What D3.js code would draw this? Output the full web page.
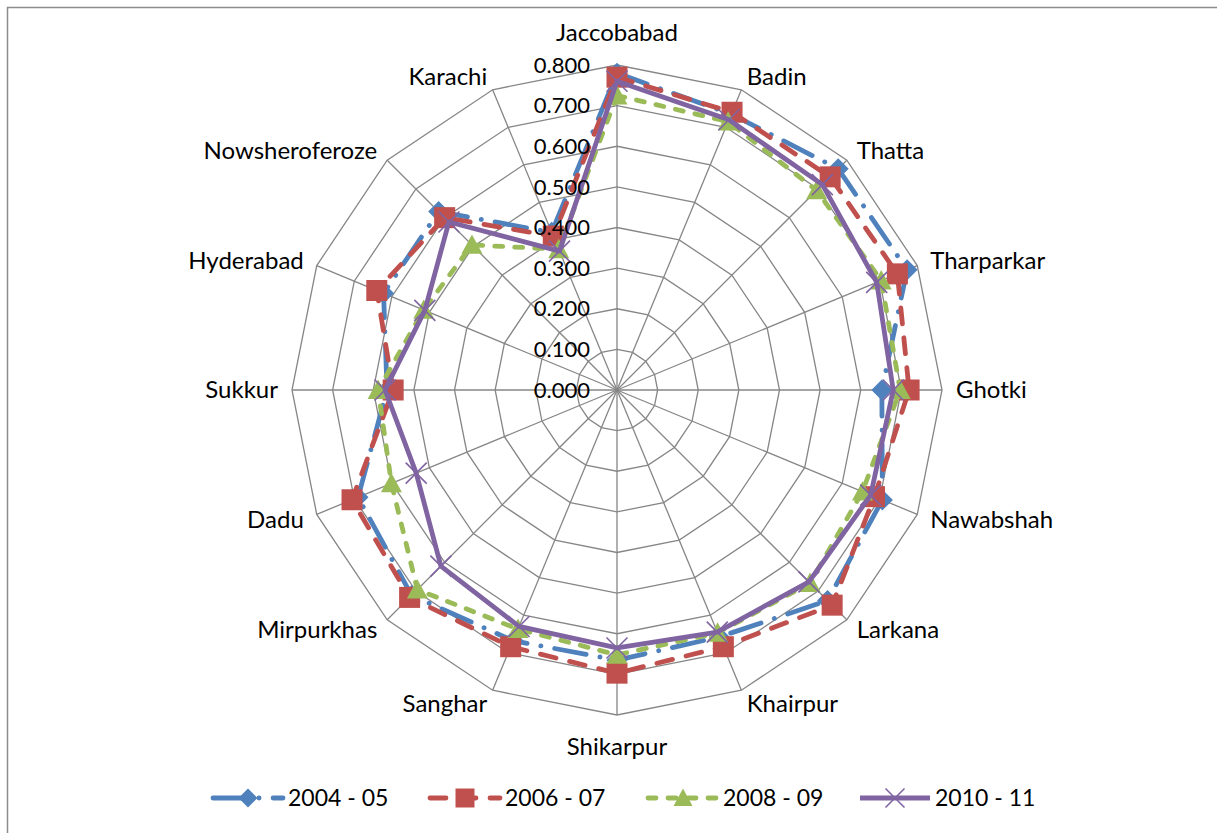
<!DOCTYPE html>
<html>
<head>
<meta charset="utf-8">
<script src="https://cdn.jsdelivr.net/npm/d3@7"></script>
<style>
  body { margin: 0; background: #fff; }
  svg text { font-family: Lato, "Open Sans", sans-serif; fill: #000; }
</style>
</head>
<body>
<div id="chart"></div>
<script>
var categories = ["Jaccobabad", "Badin", "Thatta", "Tharparkar", "Ghotki", "Nawabshah", "Larkana", "Khairpur",
                  "Shikarpur", "Sanghar", "Mirpurkhas", "Dadu", "Sukkur", "Hyderabad", "Nowsheroferoze", "Karachi"];
var seriesNames = ["2004 - 05", "2006 - 07", "2008 - 09", "2010 - 11"];
var v2004 = [0.780, 0.735, 0.770, 0.773, 0.652, 0.707, 0.733, 0.658, 0.665, 0.668, 0.715, 0.690, 0.566, 0.622, 0.621, 0.420];
var v2006 = [0.770, 0.740, 0.742, 0.747, 0.719, 0.686, 0.749, 0.684, 0.697, 0.684, 0.722, 0.706, 0.551, 0.640, 0.600, 0.410];
var v2008 = [0.725, 0.715, 0.695, 0.704, 0.697, 0.654, 0.672, 0.647, 0.652, 0.637, 0.695, 0.601, 0.588, 0.515, 0.505, 0.375];
var v2010 = [0.760, 0.720, 0.715, 0.692, 0.680, 0.676, 0.668, 0.645, 0.635, 0.630, 0.613, 0.535, 0.571, 0.512, 0.585, 0.370];
var tickValues = [0, 0.1, 0.2, 0.3, 0.4, 0.5, 0.6, 0.7, 0.8];

var w = 1217, h = 833
    , cx = 617, cy = 390, R = 325;

var colors = ["#4F81BD", "#C0504D", "#9BBB59", "#8064A2"];
var dashes = ["32,14,0.1,14", "16,14", "8,12", null];
var shapes = ["diamond", "square", "triangle", "x"];
var allValues = [v2004, v2006, v2008, v2010];

var svg = d3.select("div#chart")
    .append("svg")
    .attr("width", w)
    .attr("height", h);

// outer frame (right and bottom edges fall outside the window)
svg.append("rect")
    .attr("x", 7.5).attr("y", 7.5)
    .attr("width", 1220).attr("height", 840)
    .attr("fill", "none")
    .attr("stroke", "#8c8c8c")
    .attr("stroke-width", 1.5);

var rScale = d3.scaleLinear().domain([0, 0.8]).range([0, R]);
var aScale = d3.scaleLinear().domain([0, categories.length]).range([0, 2 * Math.PI]);

function px(i, v) { return cx + rScale(v) * Math.sin(aScale(i)); }
function py(i, v) { return cy - rScale(v) * Math.cos(aScale(i)); }

var gridG = svg.append("g").attr("class", "grid");

// rings
tickValues.slice(1).forEach(function(t) {
  var pts = categories.map(function(c, i) { return [px(i, t), py(i, t)]; });
  gridG.append("polygon")
      .attr("points", pts.map(function(p) { return p.join(","); }).join(" "))
      .attr("fill", "none")
      .attr("stroke", "#868686")
      .attr("stroke-width", 1.3);
});

// spokes
gridG.selectAll("line")
    .data(categories)
    .enter()
    .append("line")
    .attr("x1", cx).attr("y1", cy)
    .attr("x2", function(d, i) { return px(i, 0.8); })
    .attr("y2", function(d, i) { return py(i, 0.8); })
    .attr("stroke", "#868686")
    .attr("stroke-width", 1.3);

// category labels
svg.append("g")
    .selectAll("text")
    .data(categories)
    .enter()
    .append("text")
    .attr("x", function(d, i) { return cx + (R + 14) * Math.sin(aScale(i)); })
    .attr("y", function(d, i) {
      var c = Math.cos(aScale(i));
      var y = cy - (R + 14) * c;
      if (Math.abs(c) > 0.99) y -= c * 18;
      return y;
    })
    .attr("dy", "0.35em")
    .attr("text-anchor", function(d, i) {
      var s = Math.sin(aScale(i));
      return s > 0.01 ? "start" : (s < -0.01 ? "end" : "middle");
    })
    .style("font-size", "24px")
    .text(function(d) { return d; });

// series
var line = d3.line()
    .x(function(d, i) { return px(i, d); })
    .y(function(d, i) { return py(i, d); })
    .curve(d3.curveLinearClosed);

function drawMarker(g, shape, color, x, y, s) {
  if (shape == "diamond") {
    g.append("path")
        .attr("d", "M" + x + "," + (y - s) + "L" + (x + s) + "," + y + "L" + x + "," + (y + s) + "L" + (x - s) + "," + y + "Z")
        .attr("fill", color);
  } else if (shape == "square") {
    g.append("rect")
        .attr("x", x - s).attr("y", y - s)
        .attr("width", 2 * s).attr("height", 2 * s)
        .attr("fill", color);
  } else if (shape == "triangle") {
    g.append("path")
        .attr("d", "M" + x + "," + (y - s) + "L" + (x + s) + "," + (y + s * 0.85) + "L" + (x - s) + "," + (y + s * 0.85) + "Z")
        .attr("fill", color);
  } else {
    g.append("path")
        .attr("d", "M" + (x - s) + "," + (y - s) + "L" + (x + s) + "," + (y + s) + "M" + (x - s) + "," + (y + s) + "L" + (x + s) + "," + (y - s))
        .attr("stroke", color)
        .attr("stroke-width", 1.6)
        .attr("fill", "none");
  }
}

allValues.forEach(function(vals, k) {
  var g = svg.append("g").attr("class", "series s" + k);
  g.append("path")
      .attr("d", line(vals))
      .attr("fill", "none")
      .attr("stroke", colors[k])
      .attr("stroke-width", 4.8)
      .attr("stroke-linecap", dashes[k] ? "round" : "butt")
      .attr("stroke-linejoin", "round")
      .attr("stroke-dasharray", dashes[k]);
  vals.forEach(function(v, i) {
    drawMarker(g, shapes[k], colors[k], px(i, v), py(i, v), 10.5);
  });
});

// value ticks
svg.append("g")
    .selectAll("text")
    .data(tickValues)
    .enter()
    .append("text")
    .attr("x", cx - 27)
    .attr("y", function(d) { return cy - rScale(d); })
    .attr("dy", "0.35em")
    .attr("text-anchor", "end")
    .style("font-size", "22px")
    .text(function(d) { return d3.format(".3f")(d); });

// legend
var legendX = [211, 428, 646, 858];
var legendY = 798;
var legend = svg.append("g").attr("class", "legend");
seriesNames.forEach(function(name, k) {
  var x0 = legendX[k];
  var g = legend.append("g");
  g.append("line")
      .attr("x1", x0 + 2).attr("x2", x0 + 72)
      .attr("y1", legendY).attr("y2", legendY)
      .attr("stroke", colors[k])
      .attr("stroke-width", 4.8)
      .attr("stroke-linecap", dashes[k] ? "round" : "butt")
      .attr("stroke-dasharray", dashes[k]);
  drawMarker(g, shapes[k], colors[k], x0 + 37, legendY, 9.5);
  g.append("text")
      .attr("x", x0 + 77)
      .attr("y", legendY)
      .attr("dy", "0.35em")
      .style("font-size", "23px")
      .text(name);
});
</script>
</body>
</html>
